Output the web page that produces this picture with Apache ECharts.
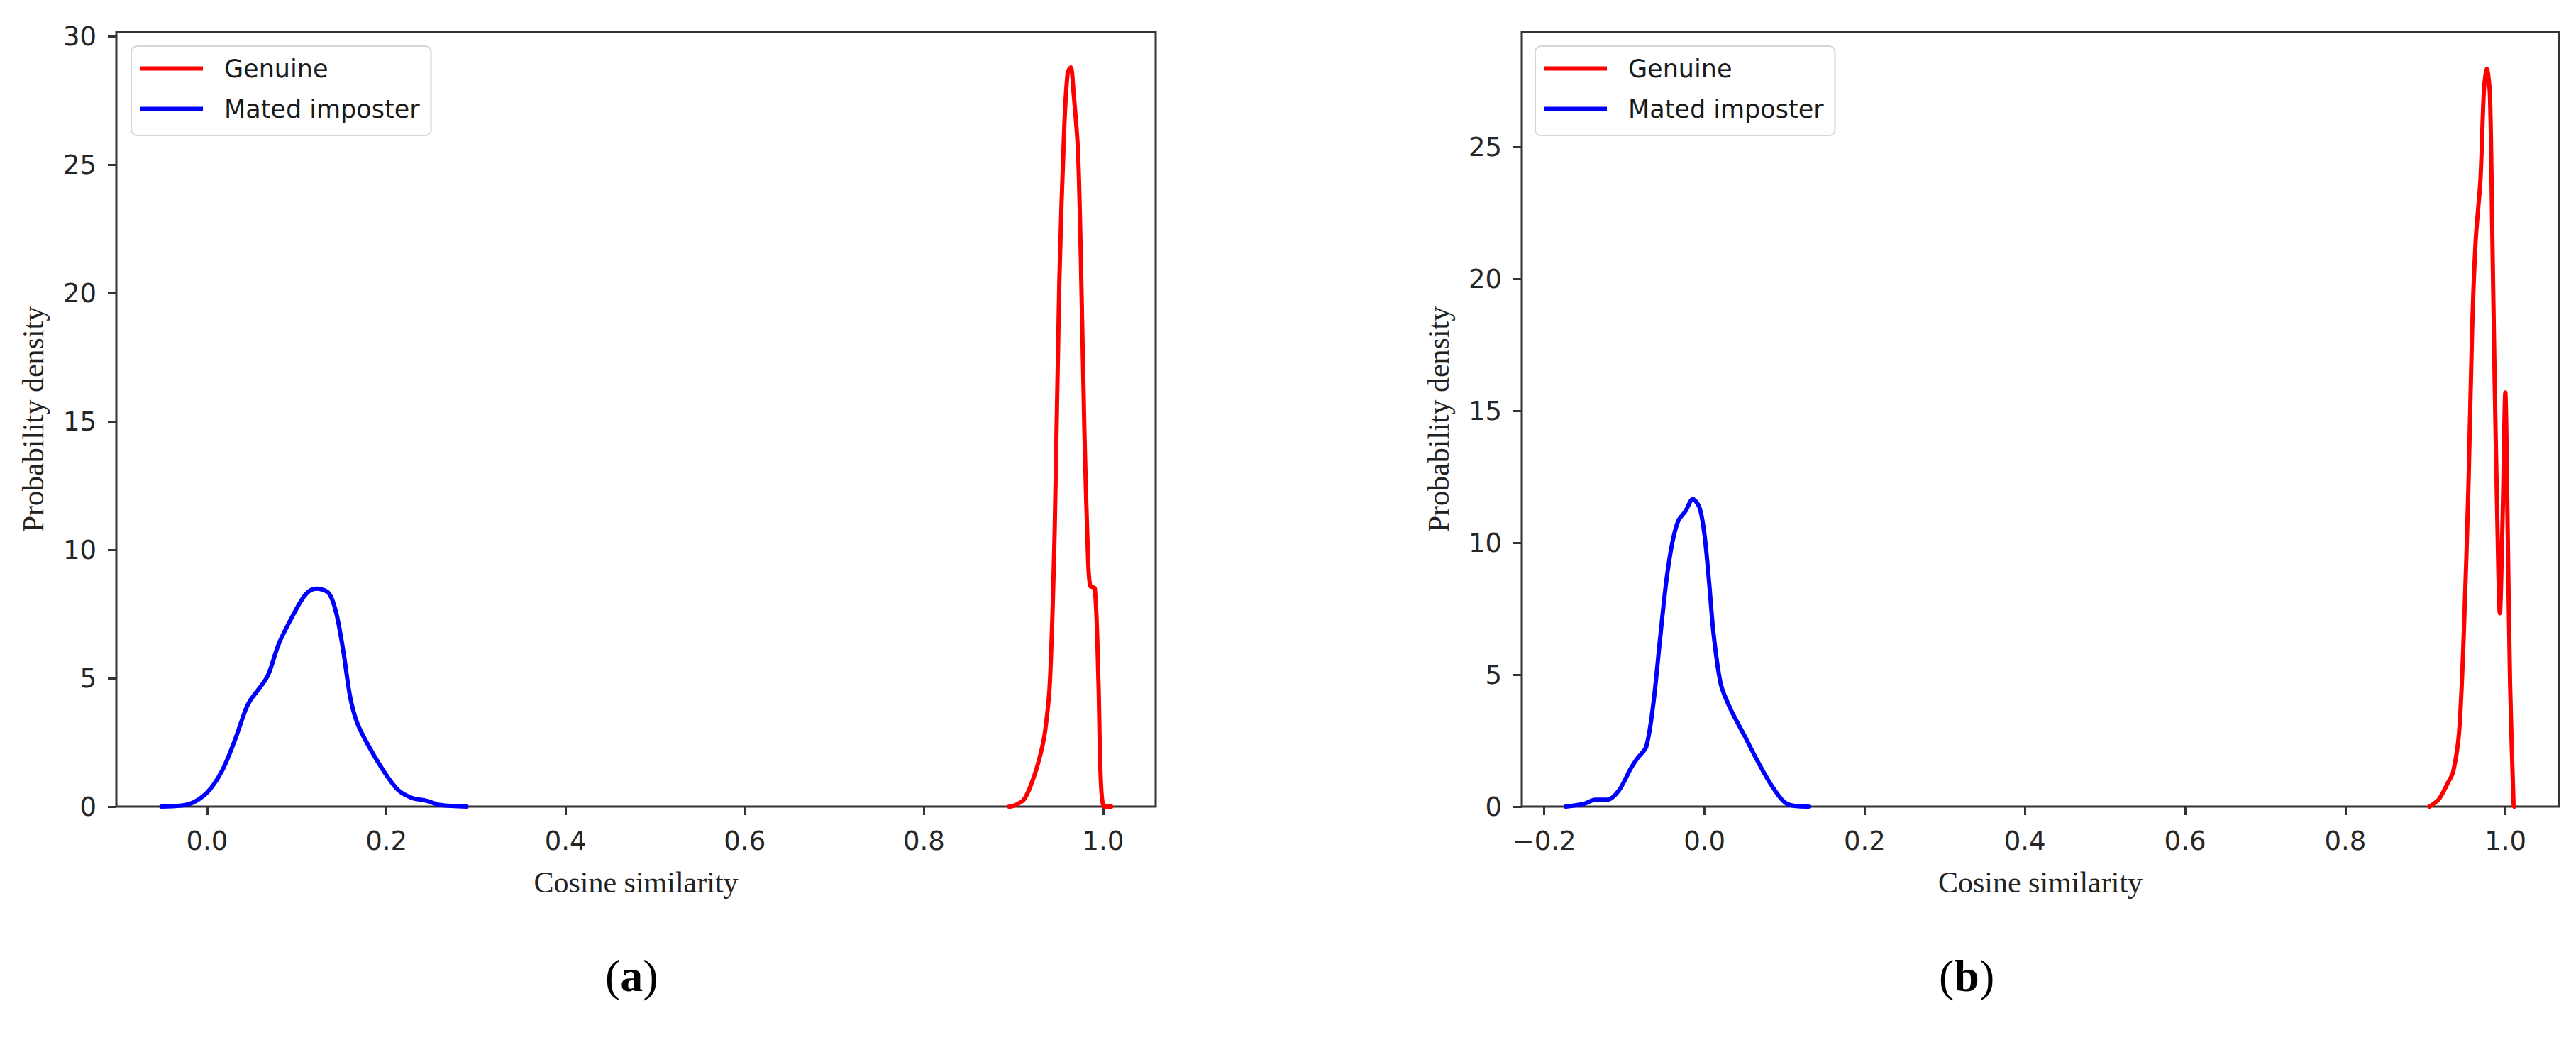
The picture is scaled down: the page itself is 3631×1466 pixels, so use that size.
<!DOCTYPE html>
<html><head><meta charset="utf-8">
<script src="https://cdn.jsdelivr.net/npm/echarts@6/dist/echarts.min.js"></script>
<style>html,body{margin:0;padding:0;background:#fff;}#c{width:3631px;height:1466px;}</style>
</head><body><div id="c"></div>
<script>
// ---- data ----
const seriesNames = ['Genuine', 'Mated imposter'];
const panelLabels = ['a', 'b'];
const xTitle = 'Cosine similarity';
const yTitle = 'Probability density';

const xTicksA = [0, 0.2, 0.4, 0.6, 0.8, 1.0];
const yTicksA = [0, 5, 10, 15, 20, 25, 30];
const xTicksB = [-0.2, 0, 0.2, 0.4, 0.6, 0.8, 1.0];
const yTicksB = [0, 5, 10, 15, 20, 25];

const genuineA = [[0.895,0],[0.899,0.02],[0.911,0.25],[0.920,0.9],[0.929,1.9],[0.935,2.9],[0.9406,4.9],[0.9459,10.8],[0.9511,20.5],[0.9565,26.4],[0.9604,28.6],[0.9638,28.8],[0.967,27.8],[0.9718,25.6],[0.975,21.5],[0.979,14.7],[0.983,9.8],[0.9855,8.6],[0.9907,8.5],[0.9947,4.9],[0.9974,1.0],[1.0013,0],[1.009,0]];
const matedA = [[-0.051,0],[-0.02,0.1],[0.0,0.55],[0.0167,1.4],[0.030,2.5],[0.0432,3.8],[0.0485,4.16],[0.0644,4.9],[0.0697,5.27],[0.0803,6.37],[0.0962,7.48],[0.1068,8.12],[0.1150,8.42],[0.1227,8.49],[0.1359,8.31],[0.1439,7.57],[0.1518,6.10],[0.1597,4.26],[0.1677,3.24],[0.1809,2.32],[0.1968,1.40],[0.2127,0.66],[0.2286,0.34],[0.2445,0.23],[0.2604,0.06],[0.2895,0]];
const genuineB = [[0.905,0],[0.917,0.29],[0.928,0.9],[0.9347,1.33],[0.9421,2.85],[0.948,6.66],[0.9539,12.37],[0.9583,18.08],[0.9628,21.5],[0.9687,23.78],[0.9731,27.2],[0.9767,27.97],[0.9805,27.0],[0.9834,21.9],[0.9864,16.2],[0.9894,11.4],[0.9929,7.33],[0.9967,11.4],[0.9997,15.7],[1.0027,10.47],[1.0056,4.76],[1.010,0.1],[1.011,0]];
const matedB = [[-0.1732,0],[-0.151,0.1],[-0.1362,0.26],[-0.1214,0.26],[-0.1067,0.62],[-0.0919,1.45],[-0.083,1.86],[-0.0727,2.27],[-0.0638,3.92],[-0.055,6.5],[-0.0476,8.56],[-0.0402,10.0],[-0.0328,10.83],[-0.024,11.19],[-0.0145,11.66],[-0.0062,11.34],[0.0,10.31],[0.0056,8.56],[0.0115,6.5],[0.0204,4.64],[0.0322,3.72],[0.0499,2.69],[0.0676,1.65],[0.0853,0.73],[0.1031,0.1],[0.13,0]];

// ---- chart ----
const chart = echarts.init(document.getElementById('c'), null, {renderer: 'svg'});
const AX = '#333';
const tickFont = 'DejaVu Sans';
const serif = 'Liberation Serif';
const fmt = v => (v < 0 ? '\u2212' : '') + Math.abs(v).toFixed(1);

function xAxis(gi, min, max, ticks) {
  return {
    type: 'value', gridIndex: gi, min: min, max: max,
    axisLine: {show: false, onZero: false},
    axisTick: {show: true, customValues: ticks, length: 12, lineStyle: {color: AX, width: 3}},
    axisLabel: {customValues: ticks, formatter: fmt, fontFamily: tickFont, fontSize: 37, color: '#262626', margin: 30},
    splitLine: {show: false},
    name: xTitle, nameLocation: 'middle', nameGap: 86,
    nameTextStyle: {fontFamily: serif, fontSize: 42, color: '#222'}
  };
}
function yAxis(gi, max, ticks) {
  return {
    type: 'value', gridIndex: gi, min: 0, max: max,
    axisLine: {show: false, onZero: false},
    axisTick: {show: true, customValues: ticks, length: 12, lineStyle: {color: AX, width: 3}},
    axisLabel: {customValues: ticks, formatter: v => String(v), fontFamily: tickFont, fontSize: 37, color: '#262626', margin: 28},
    splitLine: {show: false},
    name: yTitle, nameLocation: 'middle', nameGap: 96,
    nameTextStyle: {fontFamily: serif, fontSize: 42, color: '#222'}
  };
}
function legend(left) {
  return {
    data: seriesNames, orient: 'vertical', left: left, top: 65,
    icon: 'rect', itemWidth: 88, itemHeight: 6, itemGap: 22,
    selectedMode: false,
    padding: [14, 16, 20, 13],
    backgroundColor: '#fff', borderColor: '#d6d6d6', borderWidth: 2, borderRadius: 8,
    textStyle: {fontFamily: tickFont, fontSize: 35, color: '#1a1a1a', padding: [0, 0, 0, 25]}
  };
}
function line(name, data, gi, color) {
  return {
    type: 'line', name: name, data: data, xAxisIndex: gi, yAxisIndex: gi,
    symbol: 'none', showSymbol: false, smooth: 0.3,
    color: color, lineStyle: {color: color, width: 6, join: 'round', cap: 'round'}, z: 3
  };
}
function panel(letter, left) {
  return {
    text: '{p|(}{b|' + letter + '}{p|)}', left: left, top: 1338,
    textStyle: {rich: {
      p: {fontFamily: serif, fontSize: 64, fontWeight: 'normal', color: '#000'},
      b: {fontFamily: serif, fontSize: 64, fontWeight: 'bold', color: '#000'}
    }}
  };
}

chart.setOption({
  animation: false,
  backgroundColor: '#fff',
  title: [panel(panelLabels[0], 848), panel(panelLabels[1], 2728)],
  grid: [
    {left: 164, top: 45, width: 1465, height: 1092, show: true, borderColor: AX, borderWidth: 3},
    {left: 2145, top: 45, width: 1462, height: 1092, show: true, borderColor: AX, borderWidth: 3}
  ],
  xAxis: [xAxis(0, -0.1013, 1.0586, xTicksA), xAxis(1, -0.2281, 1.0667, xTicksB)],
  yAxis: [yAxis(0, 30.18, yTicksA), yAxis(1, 29.37, yTicksB)],
  legend: [legend(185), legend(2164)],
  series: [
    line(seriesNames[0], genuineA, 0, '#ff0000'),
    line(seriesNames[1], matedA, 0, '#0000ff'),
    line(seriesNames[0], genuineB, 1, '#ff0000'),
    line(seriesNames[1], matedB, 1, '#0000ff')
  ]
});
</script></body></html>
